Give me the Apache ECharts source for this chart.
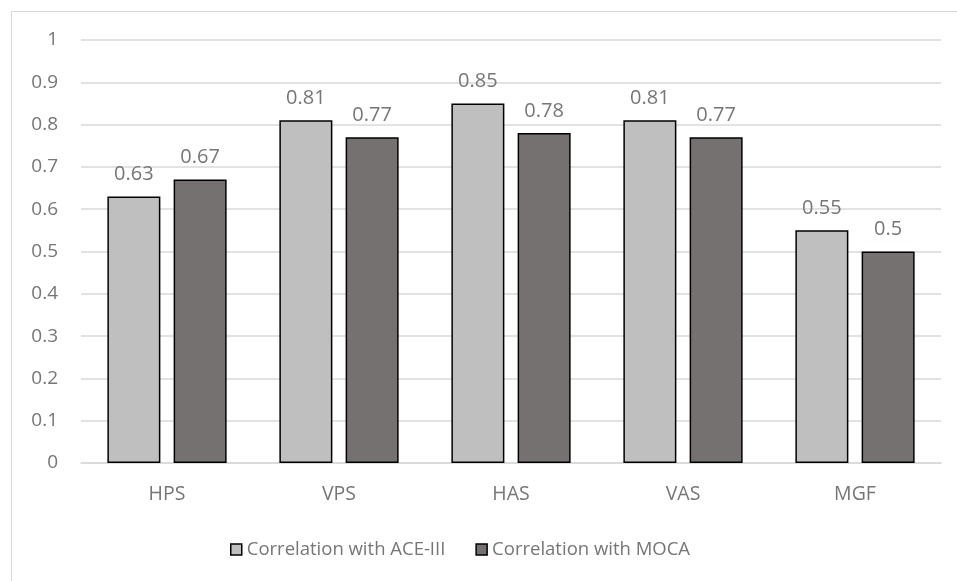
<!DOCTYPE html>
<html>
<head>
<meta charset="utf-8">
<script src="https://cdn.jsdelivr.net/npm/echarts@6/dist/echarts.min.js"></script>
<style>
  html, body { margin: 0; padding: 0; background: #fff; overflow: hidden; }
  #frame { position: absolute; left: 11px; top: 11px; width: 960px; height: 600px; border: 1px solid #d9d9d9; box-sizing: border-box; }
  #chart { width: 957px; height: 581px; position: absolute; left: 0; top: 0; }
</style>
</head>
<body>
<div id="frame"></div>
<div id="chart"></div>
<script>
// Measures on the x axis
const categories = ['HPS', 'VPS', 'HAS', 'VAS', 'MGF'];
// Correlation coefficients per measure
const aceValues = [0.63, 0.81, 0.85, 0.81, 0.55];
const mocaValues = [0.67, 0.77, 0.78, 0.77, 0.5];
const seriesNames = ['Correlation with ACE-III', 'Correlation with MOCA'];
// Value axis ticks
const yMin = 0, yMax = 1, yStep = 0.1;

const font = '"Open Sans", "Liberation Sans", sans-serif';
const textGray = '#767676';

const chart = echarts.init(document.getElementById('chart'), null, { renderer: 'canvas' });

function barSeries(name, data, color) {
  return {
    name: name,
    type: 'bar',
    data: data,
    barWidth: 53,
    barGap: '25%',
    itemStyle: { color: color, borderColor: '#000', borderWidth: 1.5 },
    label: {
      show: true,
      position: 'top',
      distance: 12,
      color: textGray,
      fontFamily: font,
      fontSize: 20,
      formatter: p => String(p.value)
    }
  };
}

chart.setOption({
  animation: false,
  grid: { left: 81, right: 16, top: 40, bottom: 118, containLabel: false },
  legend: {
    bottom: 17,
    left: 225,
    itemWidth: 11,
    itemHeight: 11,
    itemGap: 30,
    textStyle: { color: textGray, fontFamily: font, fontSize: 18.5 },
    data: seriesNames.map((n, i) => ({
      name: n,
      icon: 'rect',
      itemStyle: { color: i === 0 ? '#bfbfbf' : '#767171', borderColor: '#000', borderWidth: 1.5 }
    }))
  },
  xAxis: {
    type: 'category',
    data: categories,
    axisLine: { lineStyle: { color: '#d9d9d9', width: 1.5 } },
    axisTick: { show: false },
    axisLabel: { color: textGray, fontFamily: font, fontSize: 19.5, margin: 21 }
  },
  yAxis: {
    type: 'value',
    min: yMin,
    max: yMax,
    interval: yStep,
    axisLine: { show: false },
    axisTick: { show: false },
    splitLine: { lineStyle: { color: '#d9d9d9', width: 1.5 } },
    axisLabel: {
      color: textGray, fontFamily: font, fontSize: 19, margin: 23,
      formatter: v => String(Math.round(v * 10) / 10)
    }
  },
  series: [
    barSeries(seriesNames[0], aceValues, '#bfbfbf'),
    barSeries(seriesNames[1], mocaValues, '#767171')
  ]
});
</script>
</body>
</html>
